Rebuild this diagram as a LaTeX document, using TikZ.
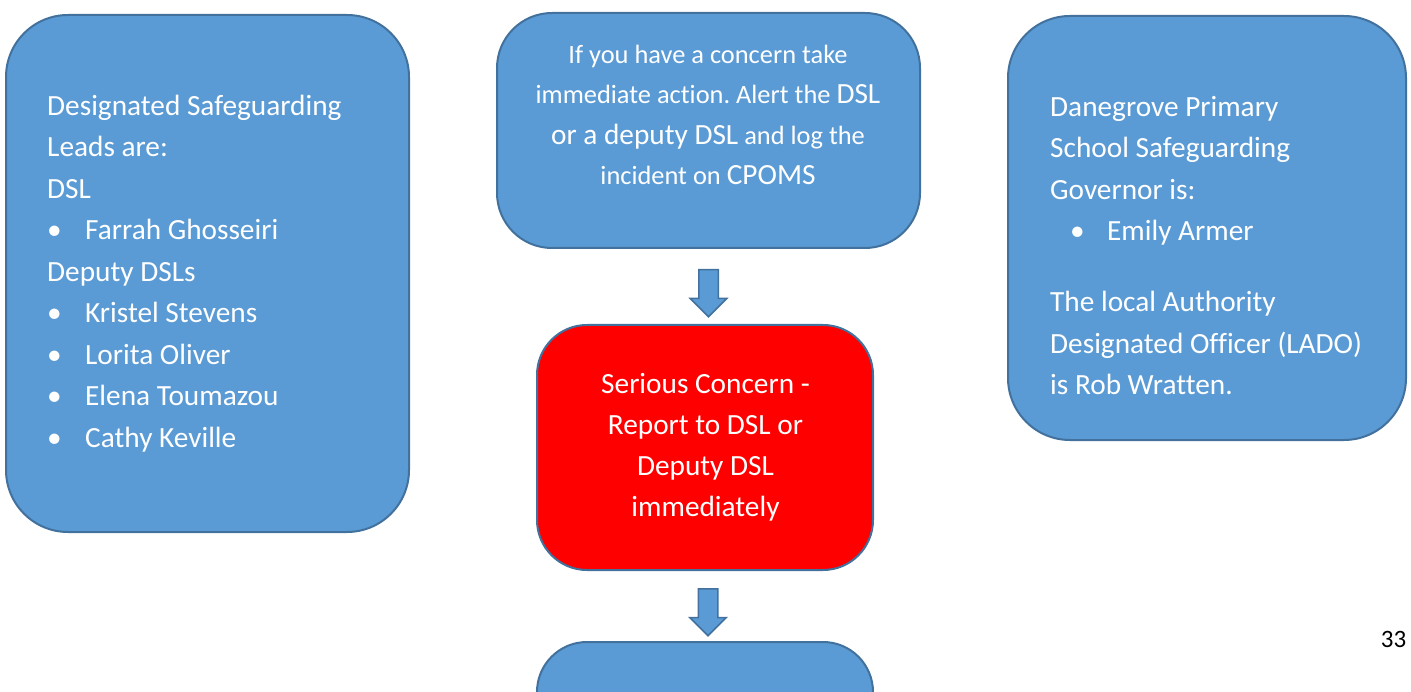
\documentclass[tikz,border=0pt]{standalone}
\usepackage{fontspec}
\setmainfont{Carlito}[Ligatures=NoCommon]
\frenchspacing
\usetikzlibrary{positioning,shapes.arrows}

\definecolor{boxblue}{HTML}{5B9BD5}
\definecolor{boxedge}{HTML}{41719C}
\definecolor{alertred}{HTML}{FF0000}

\newcommand{\itm}[1]{\makebox[38pt][l]{•}#1}
\newcommand{\lrg}[1]{{\fontsize{29.3}{40.5}\selectfont #1}}

\tikzset{
  panel/.style={draw=boxedge, line width=2pt, fill=boxblue, rounded corners=#1, inner sep=0pt},
  panel/.default=60pt,
  downarrow/.style={single arrow, draw=boxedge, line width=1.5pt, fill=boxblue,
    shape border rotate=270, minimum height=47pt, minimum width=36pt,
    single arrow head extend=8.5pt, inner sep=9pt},
  boxtext/.style={text=white, align=left, inner sep=0pt,
    font=\fontsize{29.3}{41.5}\selectfont},
}

\begin{document}
\begin{tikzpicture}[x=1pt,y=-1pt]
\useasboundingbox (0,0) rectangle (1411,692);

% Side panels
\node[panel=62pt, minimum width=403pt, minimum height=517pt] (leads) at (207.5,273.5) {};
\node[panel=62pt, minimum width=398pt, minimum height=424pt] (governor) at (1207,228) {};

% Flow in the middle
\node[panel=55pt, minimum width=423pt, minimum height=235pt] (action) at (708.5,130.5) {};
\node[downarrow, below=20pt of action] (arrowA) {};
\node[panel=50pt, fill=alertred, minimum width=336pt, minimum height=245pt] (serious) at (705,447.5) {};
\node[downarrow, below=17pt of serious, xshift=3pt] (arrowB) {};
\node[panel=50pt, minimum width=336pt, minimum height=245pt] (next) at (705,764.5) {};

% Texts (anchored on the baseline of their last line)
\node[boxtext, anchor=base west] (leadstext) at (47,447) {Designated Safeguarding\\
  Leads are:\\ DSL\\ \itm{Farrah Ghosseiri}\\ Deputy DSLs\\ \itm{Kristel Stevens}\\
  \itm{Lorita Oliver}\\ \itm{Elena Toumazou}\\ \itm{Cathy Keville}};

\node[boxtext, anchor=base west] (govtext) at (1050,395) {Danegrove Primary\\
  School Safeguarding\\ Governor is:\\
  \hspace*{20pt}\makebox[37pt][l]{•}Emily Armer\\[29.5pt]
  The local Authority\\ Designated Officer (LADO)\\ is Rob Wratten.};

\node[boxtext, align=center, anchor=base, font=\fontsize{26.4}{40.5}\selectfont] (actiontext) at (708,185)
  {If you have a concern take\\ immediate action. Alert the \lrg{DSL}\\
  \lrg{or a deputy DSL} and log the\\ incident on \lrg{CPOMS}};

\node[boxtext, align=center, anchor=base, font=\fontsize{29.3}{41}\selectfont] (serioustext) at (705.5,516)
  {Serious Concern -\\ Report to DSL or\\ Deputy DSL\\ immediately};

% Page number
\node[font=\fontsize{25}{30}\selectfont, anchor=base, inner sep=0pt] (pagenum) at (1393.5,647) {33};
\end{tikzpicture}
\end{document}
